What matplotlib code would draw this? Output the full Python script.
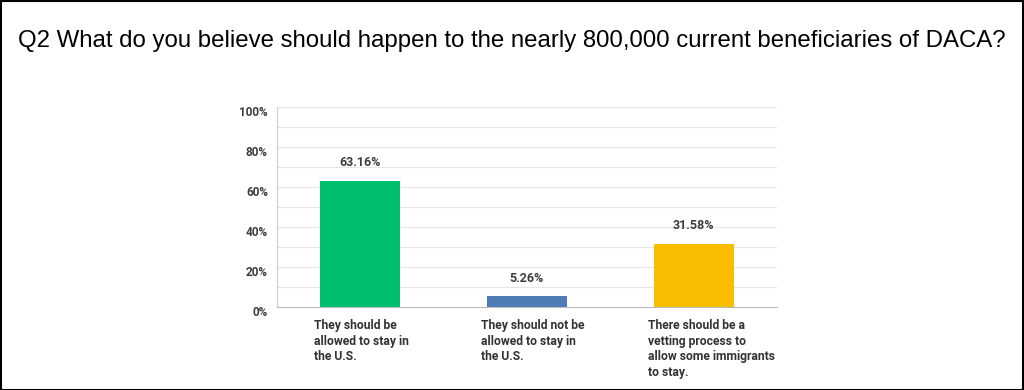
import matplotlib
matplotlib.use("Agg")
import matplotlib.pyplot as plt
from matplotlib.patches import Rectangle
from matplotlib.transforms import offset_copy

title = "Q2 What do you believe should happen to the nearly 800,000 current beneficiaries of DACA?"
categories = ["They should be\nallowed to stay in\nthe U.S.",
              "They should not be\nallowed to stay in\nthe U.S.",
              "There should be a\nvetting process to\nallow some immigrants\nto stay."]
values = [63.16, 5.26, 31.58]
value_labels = ["63.16%", "5.26%", "31.58%"]
colors = ["#00BF6F", "#507CB6", "#F9BE00"]
yticks = [0, 20, 40, 60, 80, 100]
ytick_labels = ["0%", "20%", "40%", "60%", "80%", "100%"]
grid_levels = [10, 20, 30, 40, 50, 60, 70, 80, 90, 100]

W, H = 1024, 390
fig = plt.figure(figsize=(W / 100, H / 100), dpi=100)
fig.patch.set_facecolor("white")

ax = fig.add_axes([277 / W, (H - 307) / H, 500 / W, 200 / H])
ax.set_xlim(-0.5, 2.5)
ax.set_ylim(0, 100)

for g in grid_levels:
    ax.axhline(g, color="#e6e6e6", lw=0.8, zorder=0)

x = list(range(len(values)))
ax.bar(x, values, width=0.48, color=colors, zorder=2)

for xi, v, lab in zip(x, values, value_labels):
    ax.annotate(lab, (xi, v), xytext=(0, 18), textcoords="offset pixels",
                ha="center", va="center", fontsize=9, color="#3d3d3d",
                family="Roboto", weight="bold")

for s in ["top", "right"]:
    ax.spines[s].set_visible(False)
ax.spines["left"].set_color("#cccccc")
ax.spines["left"].set_linewidth(0.8)
ax.spines["bottom"].set_color("#bbbbbb")
ax.spines["bottom"].set_linewidth(0.8)

ax.set_yticks(yticks)
ax.set_yticklabels([])
ax.tick_params(axis="y", length=0)
ax.set_xticks([])
ytrans = offset_copy(ax.get_yaxis_transform(), fig=fig, x=-9, y=-5, units="dots")
for t, lab in zip(yticks, ytick_labels):
    ax.text(0, t, lab, transform=ytrans, ha="right", va="center",
            fontsize=8.5, color="#3d3d3d", family="Roboto", weight="bold")

xtrans = offset_copy(ax.get_xaxis_transform(), fig=fig, x=-6, y=-12, units="dots")
for xi, lab in zip(x, categories):
    ax.text(xi - 0.24, 0, lab, transform=xtrans, ha="left", va="top",
            fontsize=8.7, color="#333333", family="Roboto", weight="bold",
            linespacing=1.26)

fig.text(0.5, (H - 47) / H, title, ha="center", va="baseline",
         fontsize=17.3, family="Liberation Sans", color="black")

fig.add_artist(Rectangle((0.5 / W, 0.5 / H), 1 - 1.5 / W, 1 - 1.5 / H,
                         transform=fig.transFigure, fill=False,
                         edgecolor="black", lw=1.5))

fig.savefig("out.png", dpi=100)
